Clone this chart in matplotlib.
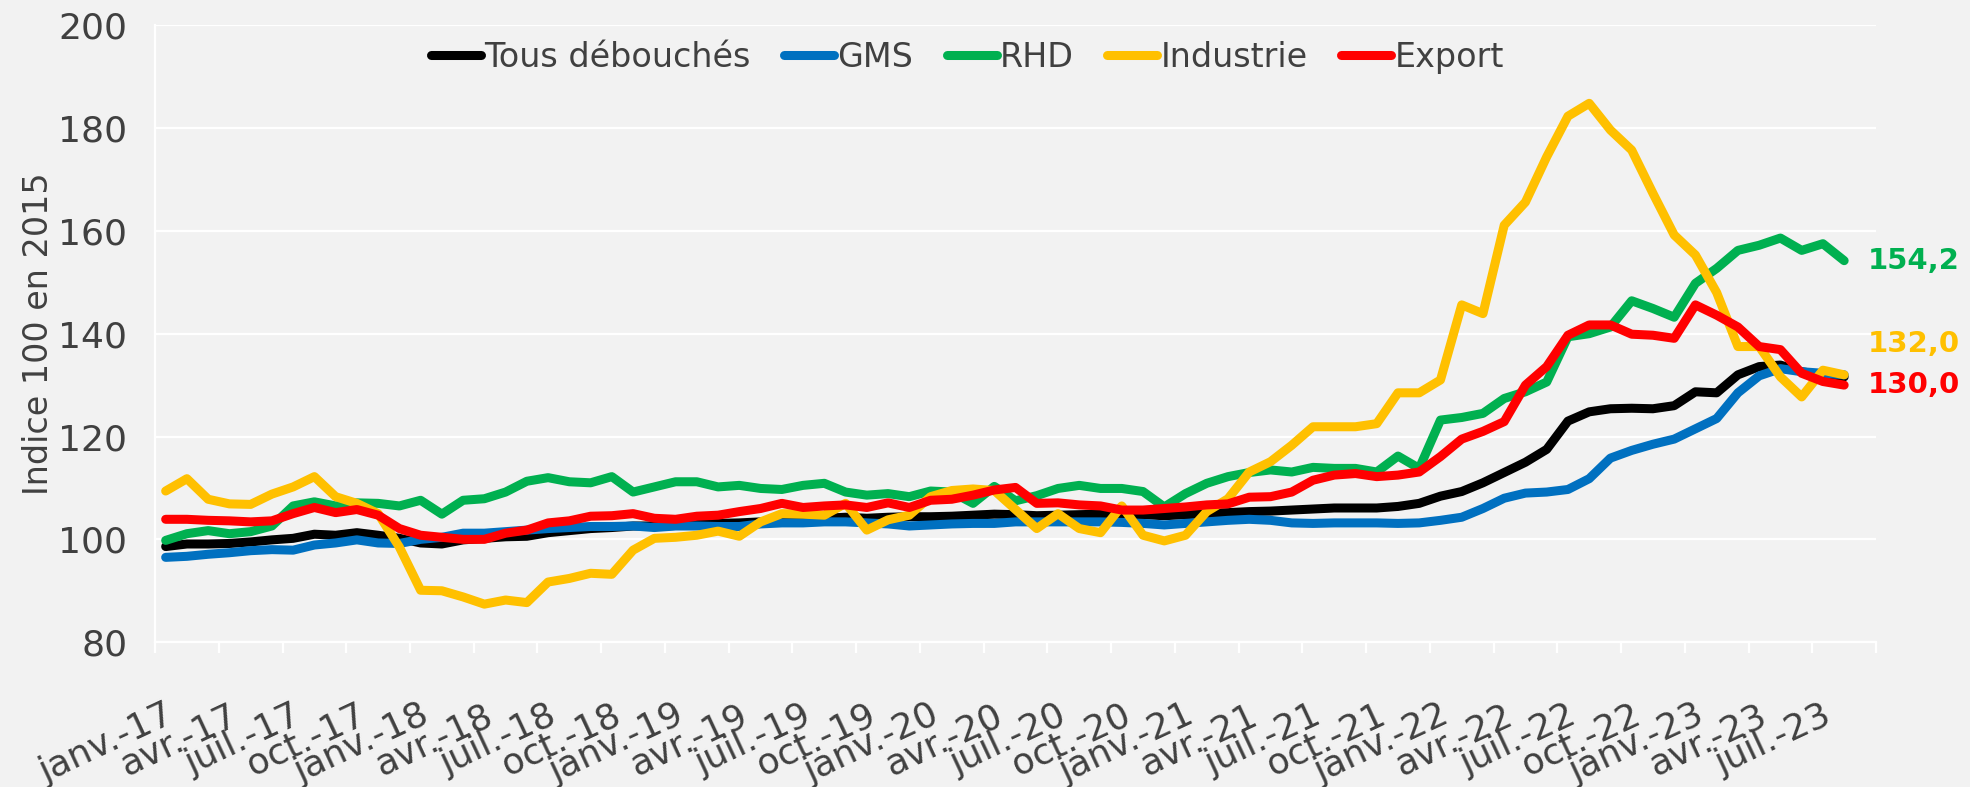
import numpy as np
import matplotlib
matplotlib.use("Agg")
from matplotlib import pyplot as plt
from matplotlib import transforms

# x tick labels, one every 3 months (janv.-17 .. juil.-23)
tick_labels = [f"{m}-{y}" for y in range(17, 24) for m in ("janv.", "avr.", "juil.", "oct.")][:27]

# monthly index values, janv. 2017 -> août 2023
tous = [98.6, 99.1, 99.1, 99.2, 99.5, 99.9, 100.2, 101.0, 100.8, 101.3, 100.8, 100.2,
        99.3, 99.1, 99.9, 100.2, 100.5, 100.6, 101.3, 101.7, 102.1, 102.3, 102.6, 102.6,
        102.7, 103.0, 103.1, 103.2, 103.4, 103.6, 103.9, 104.1, 104.3, 104.1, 104.3, 104.4,
        104.4, 104.5, 104.7, 104.9, 104.8, 104.6, 104.7, 104.8, 104.9, 104.9, 104.8, 104.6,
        104.8, 105.0, 105.2, 105.4, 105.5, 105.7, 105.9, 106.1, 106.1, 106.1, 106.4, 107.0,
        108.4, 109.3, 111.0, 113.0, 115.0, 117.5, 123.0, 124.8, 125.4, 125.5, 125.4, 126.0,
        128.7, 128.5, 132.0, 133.6, 133.9, 132.6, 132.0, 131.6]
gms = [96.5, 96.7, 97.1, 97.4, 97.8, 98.0, 97.9, 98.9, 99.3, 99.9, 99.3, 99.2,
       100.0, 100.4, 101.2, 101.2, 101.5, 101.8, 102.1, 102.3, 102.5, 102.5, 102.6, 102.3,
       102.6, 102.6, 102.5, 102.5, 103.0, 103.2, 103.2, 103.4, 103.4, 103.2, 103.0, 102.6,
       102.8, 103.0, 103.1, 103.1, 103.4, 103.4, 103.4, 103.4, 103.4, 103.3, 103.1, 102.8,
       103.1, 103.4, 103.7, 103.9, 103.7, 103.2, 103.1, 103.2, 103.2, 103.2, 103.1, 103.2,
       103.7, 104.3, 106.0, 108.0, 109.0, 109.2, 109.7, 111.8, 115.8, 117.3, 118.5, 119.5,
       121.5, 123.5, 128.5, 131.8, 133.2, 132.6, 132.3, 132.0]
rhd = [99.8, 101.1, 101.7, 101.1, 101.5, 102.6, 106.5, 107.3, 106.5, 107.1, 107.0, 106.5,
       107.6, 104.9, 107.6, 107.9, 109.2, 111.3, 112.0, 111.2, 111.0, 112.2, 109.2, 110.2,
       111.2, 111.2, 110.2, 110.5, 109.9, 109.7, 110.5, 110.9, 109.2, 108.6, 108.9, 108.3,
       109.4, 109.2, 107.0, 110.3, 107.5, 108.5, 109.9, 110.5, 109.9, 109.9, 109.3, 106.3,
       108.9, 110.9, 112.2, 113.0, 113.5, 113.1, 114.0, 113.8, 113.8, 113.1, 116.2, 113.8,
       123.2, 123.7, 124.5, 127.4, 128.7, 130.6, 139.4, 140.0, 141.3, 146.4, 144.9, 143.2,
       149.8, 152.7, 156.2, 157.2, 158.6, 156.2, 157.5, 154.2]
industrie = [109.4, 111.8, 107.8, 106.9, 106.8, 108.8, 110.2, 112.2, 108.3, 107.0, 105.0, 98.5,
             90.1, 90.0, 88.8, 87.4, 88.2, 87.7, 91.7, 92.4, 93.4, 93.2, 97.9, 100.2,
             100.4, 100.8, 101.6, 100.6, 103.4, 105.0, 104.9, 104.7, 107.0, 101.8, 103.8, 104.7,
             108.3, 109.5, 109.8, 109.5, 105.8, 102.1, 105.0, 102.1, 101.3, 106.5, 100.8, 99.7,
             100.8, 105.4, 107.9, 113.1, 115.1, 118.3, 121.9, 121.9, 121.9, 122.5, 128.5, 128.5,
             131.0, 145.6, 143.9, 161.1, 165.6, 174.4, 182.3, 184.8, 179.6, 175.7, 167.3, 159.2,
             155.3, 148.0, 137.5, 137.5, 131.6, 127.7, 132.9, 132.0]
export = [103.9, 103.9, 103.7, 103.6, 103.4, 103.6, 105.0, 106.2, 105.2, 105.8, 104.7, 102.1,
          100.8, 100.4, 100.0, 100.0, 101.2, 101.8, 103.2, 103.6, 104.5, 104.6, 105.0, 104.1,
          103.9, 104.5, 104.7, 105.4, 106.0, 107.0, 106.2, 106.5, 106.7, 106.2, 107.1, 106.2,
          107.6, 107.8, 108.6, 109.6, 110.1, 107.0, 107.1, 106.7, 106.5, 105.7, 105.7, 106.0,
          106.3, 106.7, 106.9, 108.2, 108.3, 109.2, 111.5, 112.5, 112.8, 112.2, 112.5, 113.1,
          116.1, 119.5, 121.0, 122.9, 130.0, 133.6, 139.7, 141.7, 141.7, 139.9, 139.7, 139.1,
          145.6, 143.6, 141.3, 137.5, 136.9, 132.3, 130.7, 130.0]

series = [
    (tous, "#000000", "Tous débouchés"),
    (gms, "#0070C0", "GMS"),
    (rhd, "#00B050", "RHD"),
    (industrie, "#FFC000", "Industrie"),
    (export, "#FF0000", "Export"),
]

bg = "#F2F2F2"
txt = "#404040"

fig = plt.figure(figsize=(19.7, 7.87), dpi=100, facecolor=bg)
ax = fig.add_axes([0.0787, 0.184, 0.8736, 0.784])
ax.set_facecolor(bg)

x = np.arange(len(tous))
for vals, col, lab in series:
    ax.plot(x, vals, color=col, lw=6.5, label=lab,
            solid_joinstyle="round", solid_capstyle="round")

ax.set_xlim(-0.5, 80.5)
ax.set_ylim(80, 200)
ax.set_yticks(range(80, 201, 20))
ax.grid(axis="y", color="white", lw=1.6)
ax.set_axisbelow(True)

for s in ("top", "right"):
    ax.spines[s].set_visible(False)
for s in ("left", "bottom"):
    ax.spines[s].set_color("white")
    ax.spines[s].set_linewidth(1.6)

ax.set_xticks(np.arange(-0.5, 81, 3))
ax.set_xticklabels([])
ax.tick_params(axis="x", length=8, width=1.6, color="white")
ax.tick_params(axis="y", length=0, labelsize=26, labelcolor=txt, pad=20)

# rotated month labels
trans = transforms.blended_transform_factory(ax.transData, ax.transAxes)
for k, lab in enumerate(tick_labels):
    ax.text(3 * k + 0.3, -0.115, lab, transform=trans, rotation=25,
            rotation_mode="anchor", ha="right", va="center",
            fontsize=26, color=txt, clip_on=False)

ax.set_ylabel("Indice 100 en 2015", fontsize=24, color=txt)
ax.yaxis.set_label_coords(-0.058, 0.5)

leg = ax.legend(loc="center", bbox_to_anchor=(0.472, 0.948), ncol=5, frameon=False,
                fontsize=24, handlelength=1.5, handletextpad=0.1, columnspacing=1.0)
for t in leg.get_texts():
    t.set_color(txt)

# end-of-series value labels
ax.text(80.1, rhd[-1], "154,2", color="#00B050", fontsize=21, fontweight="bold",
        ha="left", va="center", clip_on=False)
ax.text(80.1, industrie[-1] + 6, "132,0", color="#FFC000", fontsize=21, fontweight="bold",
        ha="left", va="center", clip_on=False)
ax.text(80.1, export[-1], "130,0", color="#FF0000", fontsize=21, fontweight="bold",
        ha="left", va="center", clip_on=False)

fig.savefig("out.png", dpi=100, facecolor=bg)
